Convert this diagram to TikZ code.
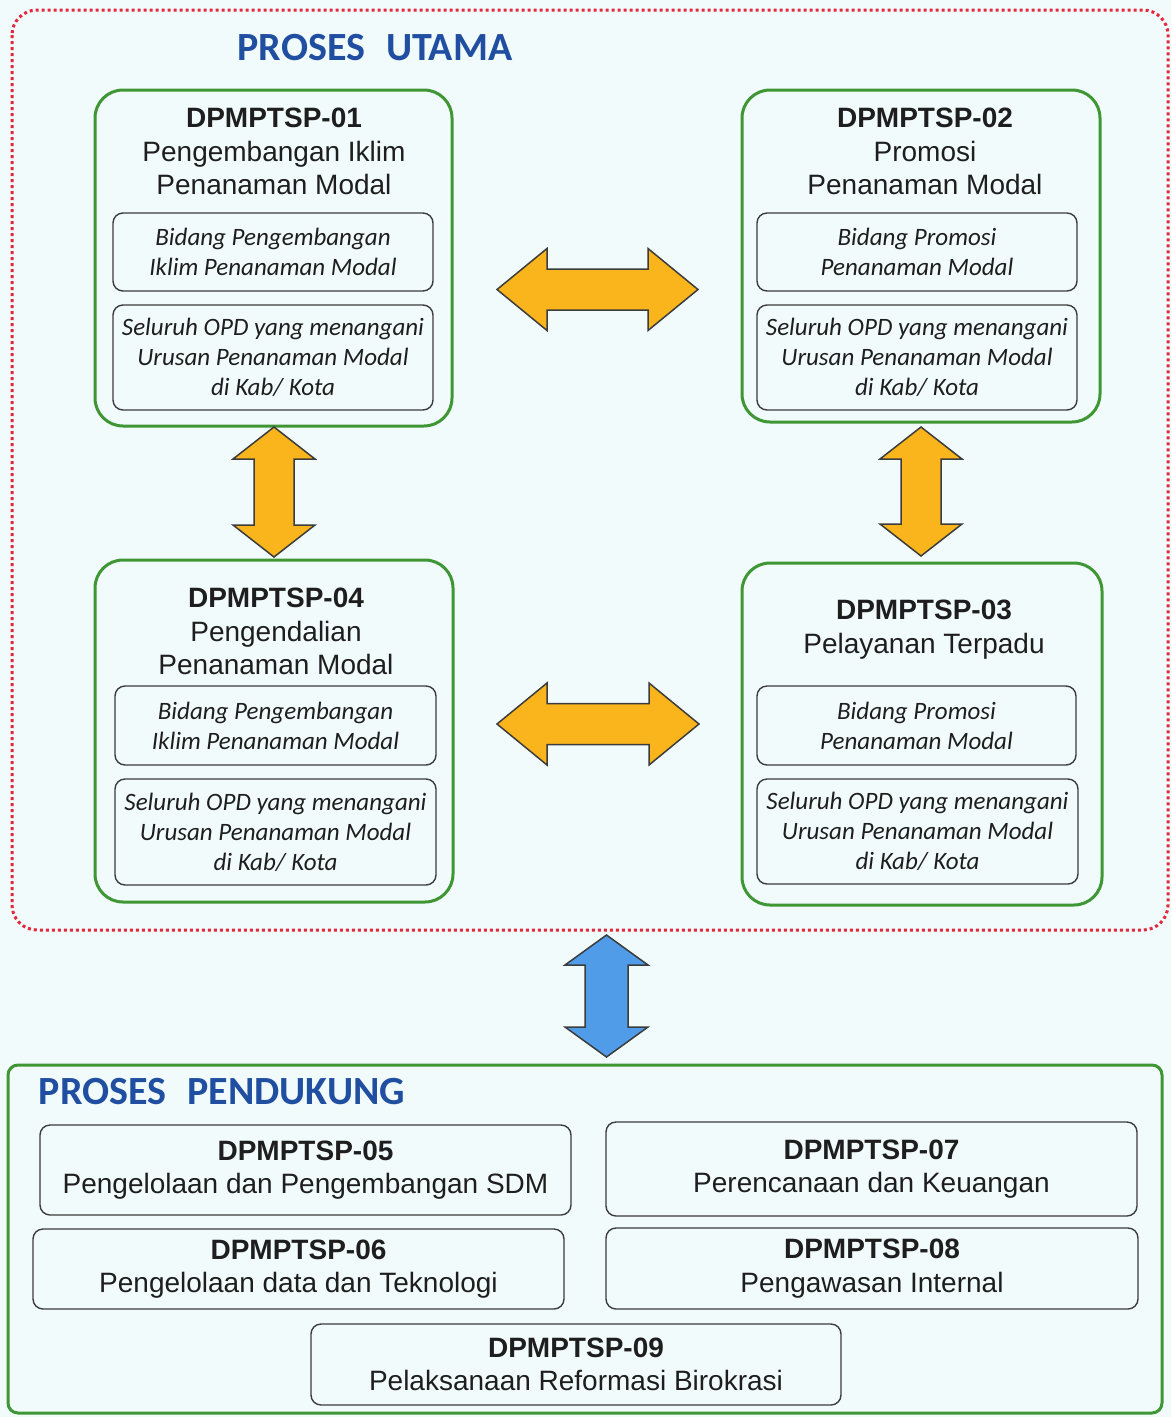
\documentclass[tikz,border=0pt]{standalone}
\usepackage{fontspec}
\setmainfont{Liberation Sans}
\newfontfamily\carl{Carlito}
\definecolor{bgc}{RGB}{242,251,252}
\definecolor{redd}{RGB}{228,40,60}
\definecolor{grn}{RGB}{62,150,52}
\definecolor{ttl}{RGB}{32,78,160}
\definecolor{orng}{RGB}{250,180,28}
\definecolor{blu}{RGB}{80,156,232}
\definecolor{edge}{RGB}{60,60,60}
\definecolor{txt}{RGB}{30,30,30}
\tikzset{
 mainbox/.style={draw=grn, line width=3pt, rounded corners=28pt, inner sep=0pt},
 subbox/.style={draw=edge, line width=1.4pt, rounded corners=10pt, inner sep=0pt, align=center, font=\carl\itshape\fontsize{25}{30}\selectfont, text=txt},
 supbox/.style={draw=edge, line width=1.4pt, rounded corners=10pt, inner sep=0pt, align=center, font=\fontsize{28}{33.5}\selectfont, text=txt},
 headtext/.style={anchor=north, inner sep=0pt, align=center, font=\fontsize{28}{33.5}\selectfont, text=txt},
 blockarrow/.style={draw=edge, line width=1.5pt, line join=miter},
 sectitle/.style={font=\carl\bfseries\fontsize{40}{48}\selectfont, text=ttl, inner sep=0pt},
}
\newcommand{\bx}[7]{\node[#2, minimum width={(#5-#3)*1pt}, minimum height={(#6-#4)*1pt}] (#1) at ({(#3+#5)/2},{(#4+#6)/2}) {#7};}
% cx cy L h H S colour
\newcommand{\harr}[7]{\draw[blockarrow, fill=#7] ({#1-#3},#2) -- ({#1-#3+#4},{#2-#5}) -- ({#1-#3+#4},{#2-#6}) -- ({#1+#3-#4},{#2-#6}) -- ({#1+#3-#4},{#2-#5}) -- ({#1+#3},#2) -- ({#1+#3-#4},{#2+#5}) -- ({#1+#3-#4},{#2+#6}) -- ({#1-#3+#4},{#2+#6}) -- ({#1-#3+#4},{#2+#5}) -- cycle;}
\newcommand{\varr}[7]{\draw[blockarrow, fill=#7] (#1,{#2-#3}) -- ({#1-#5},{#2-#3+#4}) -- ({#1-#6},{#2-#3+#4}) -- ({#1-#6},{#2+#3-#4}) -- ({#1-#5},{#2+#3-#4}) -- (#1,{#2+#3}) -- ({#1+#5},{#2+#3-#4}) -- ({#1+#6},{#2+#3-#4}) -- ({#1+#6},{#2-#3+#4}) -- ({#1+#5},{#2-#3+#4}) -- cycle;}
\begin{document}
\begin{tikzpicture}[x=1pt,y=-1pt]
\fill[bgc] (0,0) rectangle (1171,1417);
\useasboundingbox (0,0) rectangle (1171,1417);
% main process frame
\draw[redd, line width=3pt, dash pattern=on 3pt off 3pt, rounded corners=25pt] (12,10) rectangle (1168,930);
\node[sectitle] (tu) at (375,48) {PROSES\hspace{0.3em} UTAMA};
% box 01
\bx{b1}{mainbox}{95}{90}{452}{426}{}
\node[headtext] (h1) at (274,108) {\textbf{DPMPTSP-01}\\Pengembangan Iklim\\Penanaman Modal};
\bx{b1a}{subbox}{113}{213}{433}{291}{Bidang Pengembangan\\Iklim Penanaman Modal}
\bx{b1b}{subbox}{113}{305}{433}{410}{Seluruh OPD yang menangani\\Urusan Penanaman Modal\\di Kab/ Kota}
% box 02
\bx{b2}{mainbox}{742}{90}{1100}{422}{}
\node[headtext] (h2) at (925,108) {\textbf{DPMPTSP-02}\\Promosi\\Penanaman Modal};
\bx{b2a}{subbox}{757}{213}{1077}{291}{Bidang Promosi\\Penanaman Modal}
\bx{b2b}{subbox}{757}{305}{1077}{410}{Seluruh OPD yang menangani\\Urusan Penanaman Modal\\di Kab/ Kota}
% box 04
\bx{b4}{mainbox}{95}{560}{453}{902}{}
\node[headtext] (h4) at (276,588) {\textbf{DPMPTSP-04}\\Pengendalian\\Penanaman Modal};
\bx{b4a}{subbox}{115}{686}{436}{765}{Bidang Pengembangan\\Iklim Penanaman Modal}
\bx{b4b}{subbox}{115}{779}{436}{885}{Seluruh OPD yang menangani\\Urusan Penanaman Modal\\di Kab/ Kota}
% box 03
\bx{b3}{mainbox}{742}{563}{1102}{905}{}
\node[headtext] (h3) at (924,600) {\textbf{DPMPTSP-03}\\Pelayanan Terpadu};
\bx{b3a}{subbox}{757}{686}{1076}{765}{Bidang Promosi\\Penanaman Modal}
\bx{b3b}{subbox}{757}{779}{1078}{884}{Seluruh OPD yang menangani\\Urusan Penanaman Modal\\di Kab/ Kota}
% arrows
\harr{597.5}{289.5}{100.5}{50}{41}{20.5}{orng}
\harr{598}{724}{101}{50}{41}{20.5}{orng}
\varr{274}{492}{65}{32}{41}{20}{orng}
\varr{921}{491.5}{64.5}{32}{41}{20}{orng}
\varr{606.5}{996}{61}{30}{41.5}{21.5}{blu}
% support frame
\draw[grn, line width=3pt, rounded corners=10pt] (8,1065) rectangle (1162,1413);
\node[sectitle] (tp) at (222,1092) {PROSES\hspace{0.3em} PENDUKUNG};
\bx{b5}{supbox}{40}{1125}{571}{1215}{\textbf{DPMPTSP-05}\\Pengelolaan dan Pengembangan SDM}
\bx{b6}{supbox}{33}{1229}{564}{1309}{\textbf{DPMPTSP-06}\\Pengelolaan data dan Teknologi}
\bx{b7}{supbox}{606}{1122}{1137}{1216}{\textbf{DPMPTSP-07}\\Perencanaan dan Keuangan}
\bx{b8}{supbox}{606}{1228}{1138}{1309}{\textbf{DPMPTSP-08}\\Pengawasan Internal}
\bx{b9}{supbox}{311}{1324}{841}{1405}{\textbf{DPMPTSP-09}\\Pelaksanaan Reformasi Birokrasi}
\end{tikzpicture}
\end{document}
